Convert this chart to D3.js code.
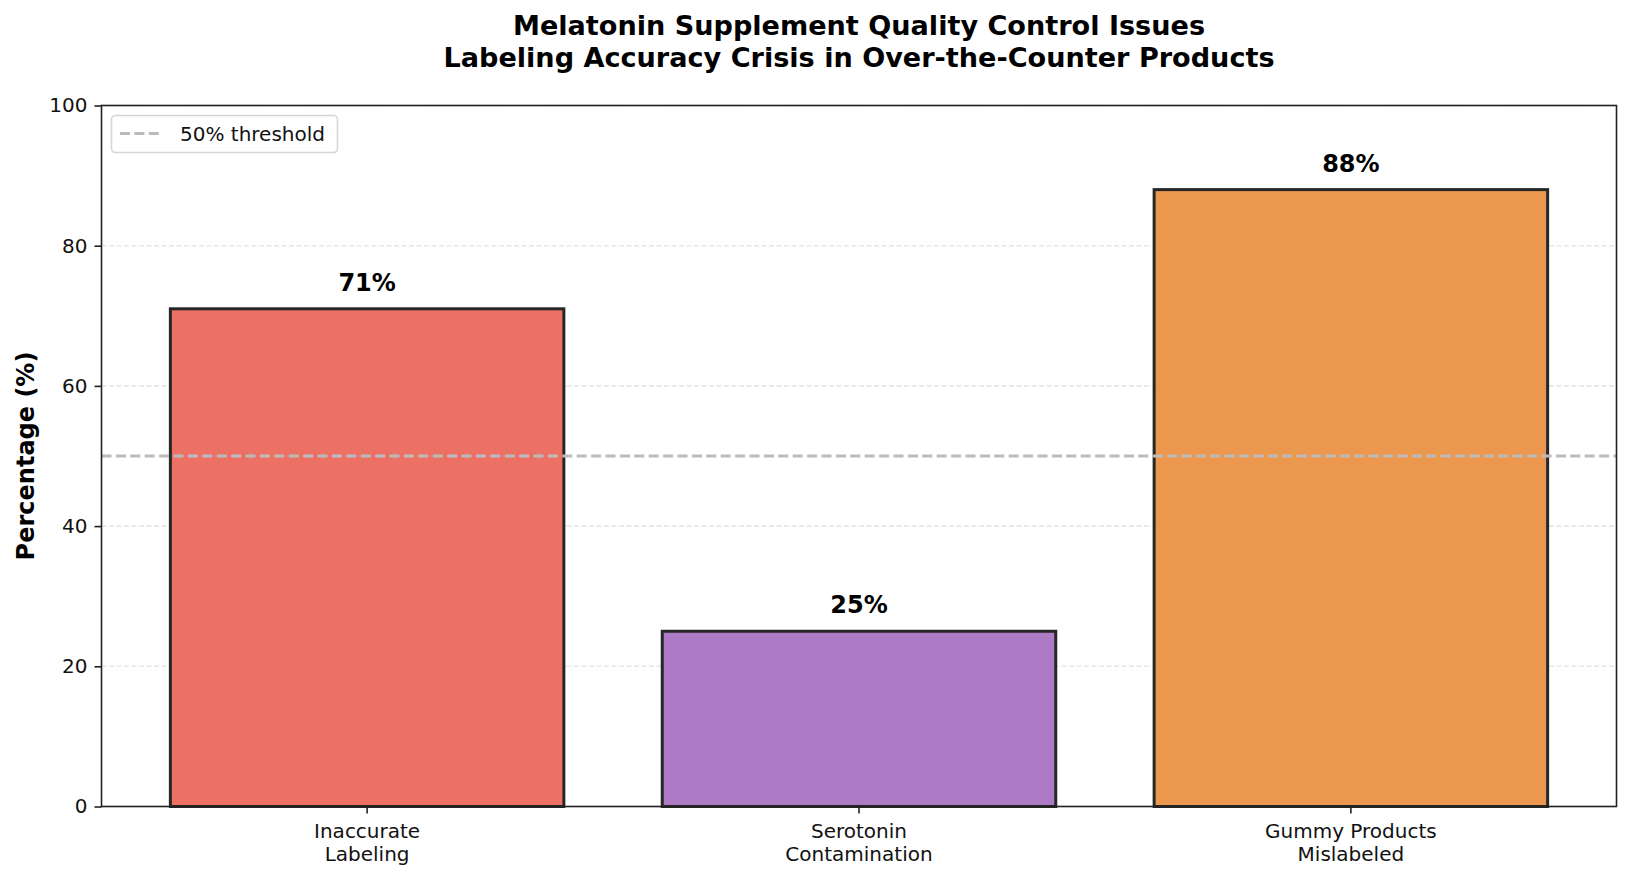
<!DOCTYPE html>
<html>
<head>
<meta charset="utf-8">
<script src="https://cdn.jsdelivr.net/npm/d3@7"></script>
<style>
  body { margin: 0; background: #fff; }
  svg { display: block; font-family: "DejaVu Sans", sans-serif; }
</style>
</head>
<body>
<div id="chart"></div>
<script>
// chart data
const categories = ["Inaccurate\nLabeling", "Serotonin\nContamination", "Gummy Products\nMislabeled"];
const percentages = [71, 25, 88];
const barColors = ["#EC7063", "#AF7AC5", "#EB984E"];
const yTicks = [0, 20, 40, 60, 80, 100];
const thresholdValue = 50;
const titleLines = ["Melatonin Supplement Quality Control Issues", "Labeling Accuracy Crisis in Over-the-Counter Products"];

const width = 1632;
const height = 880;
const plot = { left: 101.5, right: 1616.5, top: 105.5, bottom: 806.5 };

const svg = d3.select("#chart")
    .append("svg")
    .attr("width", width)
    .attr("height", height);

// scales
const x = d3.scaleBand()
    .domain(d3.range(categories.length))
    .range([plot.left, plot.right])
    .paddingInner(0.2)
    .paddingOuter(0.14);

const y = d3.scaleLinear()
    .domain([0, 100])
    .range([plot.bottom, plot.top]);

// grid lines
svg.append("g")
    .selectAll("line")
    .data(yTicks)
    .enter()
    .append("line")
    .attr("x1", plot.left)
    .attr("x2", plot.right)
    .attr("y1", d => y(d))
    .attr("y2", d => y(d))
    .attr("stroke", "#e6e6e6")
    .attr("stroke-width", 1.6)
    .attr("stroke-dasharray", "5,2.5");

// bars
svg.append("g")
    .selectAll("rect")
    .data(percentages)
    .enter()
    .append("rect")
    .attr("x", (d, i) => x(i))
    .attr("y", d => y(d))
    .attr("width", x.bandwidth())
    .attr("height", d => y(0) - y(d))
    .attr("fill", (d, i) => barColors[i])
    .attr("stroke", "#262626")
    .attr("stroke-width", 3);

// value labels
svg.append("g")
    .selectAll("text")
    .data(percentages)
    .enter()
    .append("text")
    .attr("x", (d, i) => x(i) + x.bandwidth() / 2)
    .attr("y", d => y(d) - 18)
    .attr("text-anchor", "middle")
    .style("font-size", "24px")
    .style("font-weight", "bold")
    .text(d => `${d}%`);

// threshold line
svg.append("line")
    .attr("x1", plot.left)
    .attr("x2", plot.right)
    .attr("y1", y(thresholdValue))
    .attr("y2", y(thresholdValue))
    .attr("stroke", "#bbbbbb")
    .attr("stroke-width", 3)
    .attr("stroke-dasharray", "10,4.4");

// y axis
const yAxis = svg.append("g")
    .attr("transform", `translate(${plot.left},0)`)
    .call(d3.axisLeft(y).tickValues(yTicks).tickSize(7).tickPadding(7));
yAxis.select(".domain").remove();
yAxis.selectAll("line").attr("stroke", "#222").attr("stroke-width", 1.6);
yAxis.selectAll("text").style("font-size", "20px").style("font-family", "DejaVu Sans").attr("fill", "#111");

// x axis
const xAxis = svg.append("g")
    .attr("transform", `translate(0,${plot.bottom})`)
    .call(d3.axisBottom(x).tickSize(7).tickFormat(""));
xAxis.select(".domain").remove();
xAxis.selectAll("line").attr("stroke", "#222").attr("stroke-width", 1.6);

const xLabels = svg.append("g")
    .selectAll("text")
    .data(categories)
    .enter()
    .append("text")
    .attr("text-anchor", "middle")
    .attr("fill", "#111")
    .style("font-size", "20px");
xLabels.each(function(d, i) {
    const cx = x(i) + x.bandwidth() / 2;
    d3.select(this).selectAll("tspan")
        .data(d.split("\n"))
        .enter()
        .append("tspan")
        .attr("x", cx)
        .attr("y", (t, j) => 837.5 + j * 23.5)
        .text(t => t);
});

// frame
svg.append("rect")
    .attr("x", plot.left)
    .attr("y", plot.top)
    .attr("width", plot.right - plot.left)
    .attr("height", plot.bottom - plot.top)
    .attr("fill", "none")
    .attr("stroke", "#222")
    .attr("stroke-width", 1.6);

// y label
svg.append("text")
    .attr("transform", `translate(33.5,${(plot.top + plot.bottom) / 2}) rotate(-90)`)
    .attr("text-anchor", "middle")
    .style("font-size", "24px")
    .style("font-weight", "bold")
    .text("Percentage (%)");

// title
svg.append("g")
    .selectAll("text")
    .data(titleLines)
    .enter()
    .append("text")
    .attr("x", (plot.left + plot.right) / 2)
    .attr("y", (d, i) => 35 + i * 31.5)
    .attr("text-anchor", "middle")
    .style("font-size", "27.1px")
    .style("font-weight", "bold")
    .text(d => d);

// legend
const legend = svg.append("g");
legend.append("rect")
    .attr("x", 111.5)
    .attr("y", 115.5)
    .attr("width", 226)
    .attr("height", 37)
    .attr("rx", 4)
    .attr("fill", "#fff")
    .attr("fill-opacity", 0.8)
    .attr("stroke", "#d6d6d6")
    .attr("stroke-width", 1.6);
legend.append("line")
    .attr("x1", 120)
    .attr("x2", 163)
    .attr("y1", 133.5)
    .attr("y2", 133.5)
    .attr("stroke", "#bbbbbb")
    .attr("stroke-width", 3)
    .attr("stroke-dasharray", "10,4.4");
legend.append("text")
    .attr("x", 180)
    .attr("y", 140.5)
    .style("font-size", "20px")
    .attr("fill", "#111")
    .text(`${thresholdValue}% threshold`);
</script>
</body>
</html>
